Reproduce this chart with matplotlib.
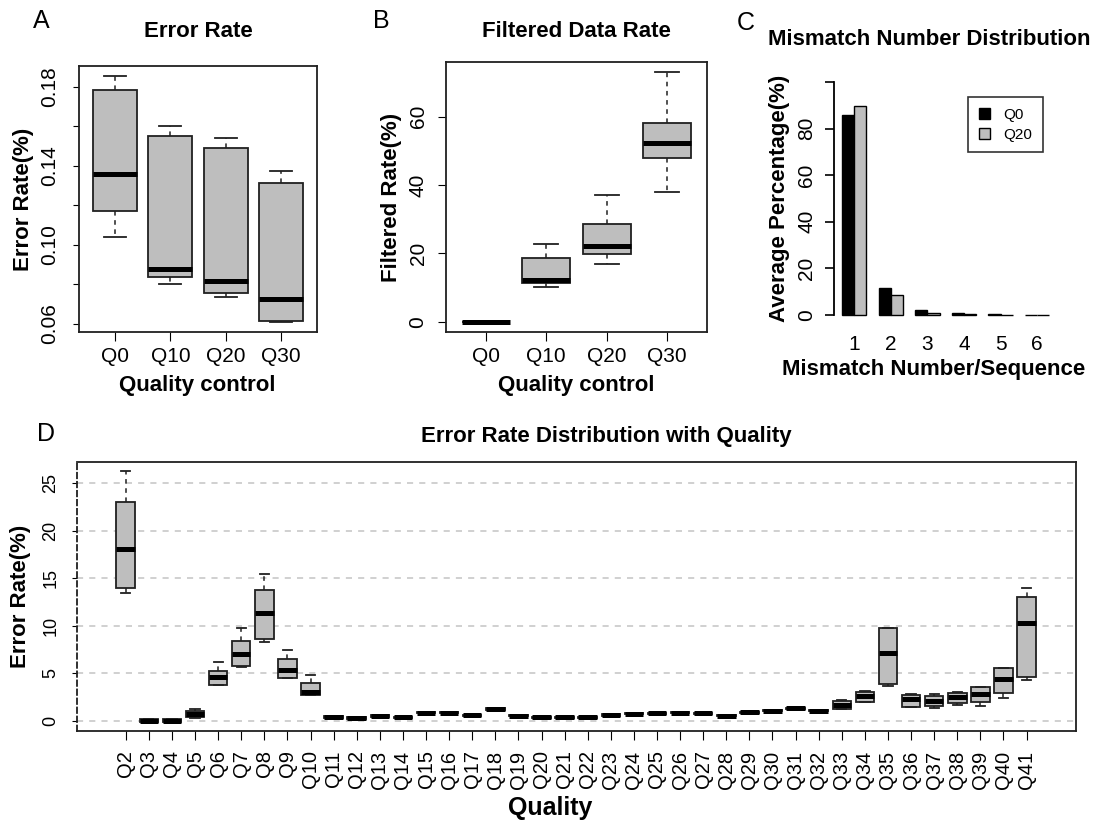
import matplotlib
matplotlib.use('Agg')
import matplotlib.pyplot as plt
from matplotlib.patches import Patch

plt.rcParams['font.family'] = ['Liberation Sans', 'DejaVu Sans']

W, H = 1104, 822

# Panel A: error rate by quality control
qc_labels = ['Q0', 'Q10', 'Q20', 'Q30']
a_lo = [0.1038, 0.0800, 0.0735, 0.0610]
a_q1 = [0.1170, 0.0838, 0.0755, 0.0617]
a_med = [0.1357, 0.0877, 0.0817, 0.0726]
a_q3 = [0.1783, 0.1549, 0.1488, 0.1311]
a_hi = [0.1854, 0.1603, 0.1542, 0.1375]

# Panel B: filtered data rate
b_lo = [0.0, 10.1, 16.8, 38.0]
b_q1 = [0.0, 11.2, 19.8, 47.8]
b_med = [0.0, 12.2, 22.2, 52.4]
b_q3 = [0.0, 18.5, 28.6, 58.2]
b_hi = [0.0, 22.6, 37.0, 73.2]

# Panel C: mismatch number distribution
mm_labels = ['1', '2', '3', '4', '5', '6']
c_q0 = [85.7, 11.4, 2.0, 0.9, 0.3, 0.1]
c_q20 = [89.6, 8.7, 1.0, 0.5, 0.15, 0.05]

# Panel D: error rate with quality score
d_labels = ['Q2', 'Q3', 'Q4', 'Q5', 'Q6', 'Q7', 'Q8', 'Q9', 'Q10', 'Q11',
            'Q12', 'Q13', 'Q14', 'Q15', 'Q16', 'Q17', 'Q18', 'Q19', 'Q20', 'Q21',
            'Q22', 'Q23', 'Q24', 'Q25', 'Q26', 'Q27', 'Q28', 'Q29', 'Q30', 'Q31',
            'Q32', 'Q33', 'Q34', 'Q35', 'Q36', 'Q37', 'Q38', 'Q39', 'Q40', 'Q41']
d_lo = [13.5, -0.15, -0.15, 0.30, 3.76, 5.62, 8.32, 4.46, 2.67, 0.32,
        0.20, 0.38, 0.26, 0.75, 0.76, 0.35, 1.15, 0.45, 0.27, 0.27,
        0.27, 0.52, 0.66, 0.69, 0.76, 0.69, 0.45, 0.83, 0.97, 1.25,
        0.97, 1.26, 2.00, 3.65, 1.40, 1.33, 1.69, 1.58, 2.39, 4.29]
d_q1 = [14.0, -0.15, -0.15, 0.35, 3.80, 5.73, 8.57, 4.53, 2.70, 0.32,
        0.22, 0.40, 0.27, 0.77, 0.78, 0.48, 1.17, 0.47, 0.29, 0.29,
        0.29, 0.54, 0.68, 0.71, 0.78, 0.71, 0.47, 0.85, 0.99, 1.27,
        0.99, 1.26, 2.00, 3.83, 1.47, 1.55, 1.90, 1.94, 2.88, 4.64]
d_med = [18.1, 0.0, 0.0, 0.67, 4.64, 6.99, 11.37, 5.34, 3.05, 0.42,
         0.30, 0.50, 0.35, 0.84, 0.84, 0.56, 1.24, 0.54, 0.35, 0.35,
         0.35, 0.60, 0.74, 0.77, 0.84, 0.77, 0.53, 0.91, 1.05, 1.33,
         1.05, 1.65, 2.57, 7.09, 2.25, 2.07, 2.46, 2.81, 4.36, 10.32]
d_q3 = [23.0, 0.15, 0.15, 1.00, 5.27, 8.43, 13.73, 6.50, 4.00, 0.52,
        0.38, 0.60, 0.43, 0.90, 0.90, 0.62, 1.30, 0.60, 0.41, 0.41,
        0.41, 0.66, 0.80, 0.83, 0.90, 0.83, 0.59, 0.97, 1.11, 1.39,
        1.11, 2.10, 3.05, 9.73, 2.70, 2.60, 2.95, 3.52, 5.52, 12.99]
d_hi = [26.3, 0.15, 0.15, 1.20, 6.18, 9.76, 15.45, 7.44, 4.85, 0.55,
        0.40, 0.62, 0.45, 0.92, 0.92, 0.64, 1.32, 0.62, 0.43, 0.43,
        0.43, 0.68, 0.82, 0.85, 0.92, 0.85, 0.61, 0.99, 1.13, 1.41,
        1.13, 2.20, 3.10, 9.73, 2.80, 2.80, 3.05, 3.60, 5.59, 13.94]

GREY = '#BEBEBE'
EDGE = '#202020'


def px_rect(left, top, right, bottom):
    return [left / W, 1 - bottom / H, (right - left) / W, (bottom - top) / H]


def ftext(x, y, s, **kw):
    fig.text(x / W, 1 - y / H, s, **kw)


def draw_boxes(ax, lo, q1, med, q3, hi):
    stats = []
    for a, b, c, d, e in zip(lo, q1, med, q3, hi):
        stats.append(dict(whislo=a, q1=b, med=c, q3=d, whishi=e))
    pos = list(range(1, len(stats) + 1))
    ax.bxp(stats, positions=pos, widths=0.8, capwidths=0.4, showfliers=False,
           patch_artist=True, manage_ticks=False,
           boxprops=dict(facecolor=GREY, edgecolor=EDGE, linewidth=1.3),
           medianprops=dict(color='black', linewidth=3.6, solid_capstyle='butt'),
           whiskerprops=dict(color=EDGE, linewidth=1.1, linestyle=(0, (3, 3))),
           capprops=dict(color=EDGE, linewidth=1.3))
    return pos


def rot_yticks(ax):
    for lbl in ax.get_yticklabels():
        lbl.set_rotation(90)
        lbl.set_va('center')


fig = plt.figure(figsize=(W / 100, H / 100), dpi=100)

# ---- A ----
axA = fig.add_axes(px_rect(79, 66, 317, 332))
pos = draw_boxes(axA, a_lo, a_q1, a_med, a_q3, a_hi)
axA.set_xlim(0.34, 4.66)
axA.set_ylim(0.05595, 0.19047)
axA.set_xticks(pos, qc_labels, fontsize=15)
axA.set_yticks([0.06, 0.08, 0.10, 0.12, 0.14, 0.16, 0.18],
               ['0.06', '', '0.10', '', '0.14', '', '0.18'], fontsize=15)
axA.tick_params(axis='x', length=6.5, pad=4.5)
axA.tick_params(axis='y', length=4.5, pad=9.5)
rot_yticks(axA)

# ---- B ----
axB = fig.add_axes(px_rect(446, 62, 707, 332))
pos = draw_boxes(axB, b_lo, b_q1, b_med, b_q3, b_hi)
axB.set_xlim(0.34, 4.66)
axB.set_ylim(-3.01, 76.0)
axB.set_xticks(pos, qc_labels, fontsize=15)
axB.set_yticks([0, 20, 40, 60], ['0', '20', '40', '60'], fontsize=15)
axB.tick_params(axis='x', length=6.5, pad=4.5)
axB.tick_params(axis='y', length=5.5, pad=7.8)
rot_yticks(axB)

for ax in (axA, axB):
    for sp in ax.spines.values():
        sp.set_linewidth(1.3)
        sp.set_color(EDGE)

# ---- C ----
axC = fig.add_axes(px_rect(833.7, 72.7, 1057.7, 324.3))
grp = [2 + 3 * i for i in range(len(c_q0))]
axC.bar([g - 0.5 for g in grp], c_q0, width=1.0, color='black',
        edgecolor='black', linewidth=1.0, label='Q0')
axC.bar([g + 0.5 for g in grp], c_q20, width=1.0, color=GREY,
        edgecolor='black', linewidth=1.0, label='Q20')
axC.set_xlim(0.32, 18.68)
axC.set_ylim(-4, 104)
for s in ('top', 'right', 'bottom'):
    axC.spines[s].set_visible(False)
axC.spines['left'].set_bounds(0, 100)
axC.spines['left'].set_linewidth(1.3)
axC.set_xticks(grp, mm_labels, fontsize=15)
axC.tick_params(axis='x', length=0, pad=7.5)
axC.set_yticks([0, 20, 40, 60, 80, 100], ['0', '20', '40', '60', '80', ''],
               fontsize=15)
axC.tick_params(axis='y', length=6.7, width=1.2, pad=6)
rot_yticks(axC)
handles = [Patch(facecolor='black', edgecolor='black'),
           Patch(facecolor=GREY, edgecolor='black')]
leg = fig.legend(handles, ['Q0', 'Q20'], loc='upper left',
                 bbox_to_anchor=(968 / W, 1 - 97 / H), fontsize=11,
                 frameon=True, fancybox=False, edgecolor='black',
                 handlelength=0.72, handleheight=0.72, handletextpad=0.9,
                 borderpad=0.7, borderaxespad=0, labelspacing=0.4)
leg.get_frame().set_linewidth(1.2)

# ---- D ----
axD = fig.add_axes(px_rect(77, 462, 1076, 731))
for v in [0, 5, 10, 15, 20, 25]:
    axD.axhline(v, color='#C4C4C4', linewidth=1.1, linestyle=(0, (4, 4)),
                zorder=0)
pos = draw_boxes(axD, d_lo, d_q1, d_med, d_q3, d_hi)
axD.set_xlim(-1.11, 42.14)
axD.set_ylim(-1.08, 27.25)
axD.set_xticks(pos, d_labels, fontsize=14.5, rotation=90)
axD.set_yticks([0, 5, 10, 15, 20, 25], ['0', '5', '10', '15', '20', '25'],
               fontsize=13)
axD.tick_params(axis='x', length=6.5, pad=7.5)
axD.tick_params(axis='y', length=3.5, pad=9.3)
rot_yticks(axD)
for sp in axD.spines.values():
    sp.set_linewidth(1.3)
    sp.set_color(EDGE)
axD.spines['left'].set_linestyle((0, (3, 2)))

# ---- texts ----
ftext(33, 28, 'A', fontsize=18, va='baseline', ha='left')
ftext(373, 28, 'B', fontsize=18, va='baseline', ha='left')
ftext(737, 30, 'C', fontsize=18, va='baseline', ha='left')
ftext(37, 441, 'D', fontsize=18, va='baseline', ha='left')

ftext(198, 36.7, 'Error Rate', fontsize=16, fontweight='bold', ha='center', va='baseline')
ftext(576.5, 36.7, 'Filtered Data Rate', fontsize=16, fontweight='bold', ha='center', va='baseline')
ftext(928.8, 45, 'Mismatch Number Distribution', fontsize=16, fontweight='bold', ha='center', va='baseline')
ftext(606, 442, 'Error Rate Distribution with Quality', fontsize=16, fontweight='bold', ha='center', va='baseline')

ftext(197.5, 391, 'Quality control', fontsize=16, fontweight='bold', ha='center', va='baseline')
ftext(576.7, 391, 'Quality control', fontsize=16, fontweight='bold', ha='center', va='baseline')
ftext(934, 375, 'Mismatch Number/Sequence', fontsize=16, fontweight='bold', ha='center', va='baseline')
ftext(549.7, 815, 'Quality', fontsize=18, fontweight='bold', ha='center', va='baseline')

ftext(23, 199, 'Error Rate(%)', fontsize=16, fontweight='bold', rotation=90, ha='center', va='center')
ftext(391, 197, 'Filtered Rate(%)', fontsize=16, fontweight='bold', rotation=90, ha='center', va='center')
ftext(780, 198.5, 'Average Percentage(%)', fontsize=16, fontweight='bold', rotation=90, ha='center', va='center')
ftext(21, 596, 'Error Rate(%)', fontsize=16, fontweight='bold', rotation=90, ha='center', va='center')

fig.savefig('out.png', dpi=100)
